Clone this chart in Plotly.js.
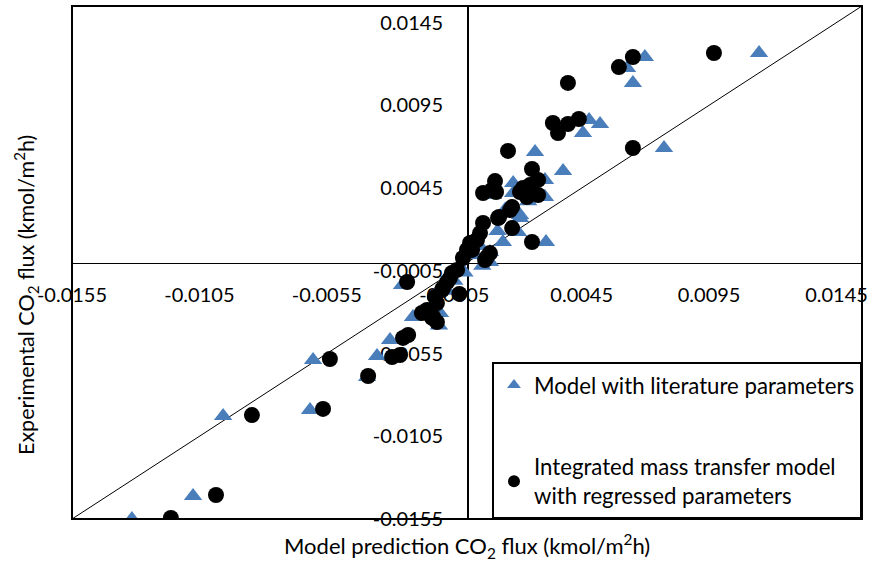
<!DOCTYPE html>
<html>
<head>
<meta charset="utf-8">
<script src="https://cdn.plot.ly/plotly-3.0.1.min.js"></script>
<style>html,body{margin:0;padding:0;background:#fff;}#chart{width:872px;height:563px;}</style>
</head>
<body>
<div id="chart"></div>
<script>
// Model with literature parameters (triangles)
const litX = [0.01146, 0.00698, 0.00628, 0.00651, 0.00479, 0.00522, 0.00455, 0.00773, 0.00377, 0.00267,
  0.00181, 0.00306, 0.00181, 0.00306, 0.00102, 0.00208, 0.00200, 0.00141, 0.00310, 0.00090,
  0.00208, 0.00090, 0.00060, 0.00030, -0.00010, -0.00050, -0.00080, -0.00106, -0.00130, -0.00255,
  -0.00212, -0.00302, -0.00353, -0.00392, -0.00604, -0.00616, -0.00957, -0.01075, -0.01315, -0.00150,
  -0.00110, 0.00120, 0.00050, 0.00150, 0.00240];
const litY = [0.01266, 0.01242, 0.01175, 0.01085, 0.00861, 0.00837, 0.00782, 0.00692, 0.00553, 0.00668,
  0.00480, 0.00499, 0.00420, 0.00396, 0.00408, 0.00287, 0.00184, 0.00124, 0.00124, 0.00063,
  0.00269, 0.00003, -0.00020, 0.00045, -0.00060, -0.00110, -0.00170, -0.00305, -0.00250, -0.00136,
  -0.00329, -0.00468, -0.00565, -0.00692, -0.00589, -0.00891, -0.00928, -0.01411, -0.01550, -0.00290,
  -0.00380, 0.00190, 0.00100, 0.00320, 0.00370];

// Integrated mass transfer model with regressed parameters (circles)
const regX = [0.00969, 0.00651, 0.00596, 0.00396, 0.00439, 0.00396, 0.00337, 0.00357, 0.00161, 0.00651,
  0.00255, 0.00110, 0.00063, 0.00114, 0.00279, 0.00220, 0.00208, 0.00247, 0.00279, 0.00235,
  0.00177, 0.00126, 0.00063, 0.00177, 0.00255, 0.00051, 0.00012, 0.00169, 0.00122, 0.00039,
  0.00020, -0.00016, -0.00039, -0.00067, -0.00094, -0.00118, -0.00133, -0.00030, 0.00090, 0.00071,
  -0.00235, -0.00231, -0.00251, -0.00177, -0.00157, -0.00126, -0.00118, -0.00098, -0.00078, -0.00059,
  0.00000, 0.00078, -0.00294, -0.00263, -0.00137, -0.00388, -0.00538, -0.00565, -0.00844, -0.00985,
  -0.01162, 0.00098];
const regY = [0.01266, 0.01242, 0.01181, 0.01085, 0.00867, 0.00837, 0.00843, 0.00782, 0.00674, 0.00692,
  0.00565, 0.00492, 0.00420, 0.00426, 0.00499, 0.00450, 0.00426, 0.00468, 0.00408, 0.00396,
  0.00335, 0.00275, 0.00239, 0.00208, 0.00124, 0.00178, 0.00118, 0.00317, 0.00269, 0.00136,
  0.00076, 0.00027, -0.00045, -0.00094, -0.00154, -0.00245, -0.00329, -0.00190, 0.00057, 0.00015,
  -0.00118, -0.00438, -0.00456, -0.00305, -0.00287, -0.00208, -0.00360, -0.00166, -0.00118, -0.00063,
  0.00076, 0.00033, -0.00571, -0.00559, -0.00335, -0.00686, -0.00583, -0.00885, -0.00922, -0.01405,
  -0.01544, 0.00438];

// Parity line y = x
const parity = [-0.0155, 0.0155];
const tickVals = [-0.0155, -0.0105, -0.0055, -0.0005, 0.0045, 0.0095, 0.0145];
const tickText = ['-0.0155', '-0.0105', '-0.0055', '-0.0005', '0.0045', '0.0095', '0.0145'];

const FONT = 'Lato, "Open Sans", sans-serif';

const traces = [
  {x: parity, y: parity, mode: 'lines', line: {color: '#000', width: 1}, showlegend: false, hoverinfo: 'skip'},
  {x: litX, y: litY, mode: 'markers', name: 'Model with literature parameters', legendgroup: 'a',
   marker: {symbol: 'triangle-up', size: 16, color: '#4a7ebb'}},
  {x: regX, y: regY, mode: 'markers', name: 'Integrated mass transfer model<br>with regressed parameters', legendgroup: 'b',
   marker: {symbol: 'circle', size: 16, color: '#000'}}
];

const layout = {
  width: 872, height: 563,
  margin: {l: 72, r: 10, t: 6, b: 44},
  paper_bgcolor: '#fff', plot_bgcolor: '#fff',
  font: {family: FONT, size: 20, color: '#000'},
  showlegend: true,
  xaxis: {
    range: [-0.0155, 0.0155], tickvals: tickVals, ticktext: tickText,
    showgrid: false, zeroline: false, showline: true, linecolor: '#000', linewidth: 1.5,
    anchor: 'free', position: 0.5, ticks: '', ticklabelstandoff: 14, layer: 'below traces',
    tickfont: {family: FONT, size: 20, color: '#000'}
  },
  yaxis: {
    range: [-0.0155, 0.0155], tickvals: tickVals, ticktext: tickText,
    showgrid: false, zeroline: false, showline: true, linecolor: '#000', linewidth: 1.5,
    anchor: 'free', position: 0.5, ticks: '', ticklabelstandoff: 20, layer: 'below traces',
    tickfont: {family: FONT, size: 20, color: '#000'}
  },
  legend: {
    x: 1, xanchor: 'right', y: 0, yanchor: 'bottom',
    bgcolor: '#fff', bordercolor: '#000', borderwidth: 2,
    font: {family: FONT, size: 22.2, color: '#000'},
    traceorder: 'grouped', tracegroupgap: 50, itemsizing: 'constant', itemwidth: 30
  },
  shapes: [
    {type: 'rect', xref: 'paper', yref: 'paper', x0: 0, x1: 1, y0: 0, y1: 1, line: {color: '#000', width: 2}, layer: 'above'}
  ],
  annotations: [
    {text: 'Model prediction CO<sub>2</sub> flux (kmol/m<sup>2</sup>h)', xref: 'paper', yref: 'paper',
     x: 0.5, y: -0.053, xanchor: 'center', yanchor: 'middle', showarrow: false, font: {family: FONT, size: 22}},
    {text: 'Experimental CO<sub>2</sub> flux (kmol/m<sup>2</sup>h)', xref: 'paper', yref: 'paper',
     x: -0.058, y: 0.437, xanchor: 'center', yanchor: 'middle', textangle: -90, showarrow: false, font: {family: FONT, size: 21.5}}
  ]
};

Plotly.newPlot('chart', traces, layout, {displayModeBar: false, staticPlot: true});
</script>
</body>
</html>
